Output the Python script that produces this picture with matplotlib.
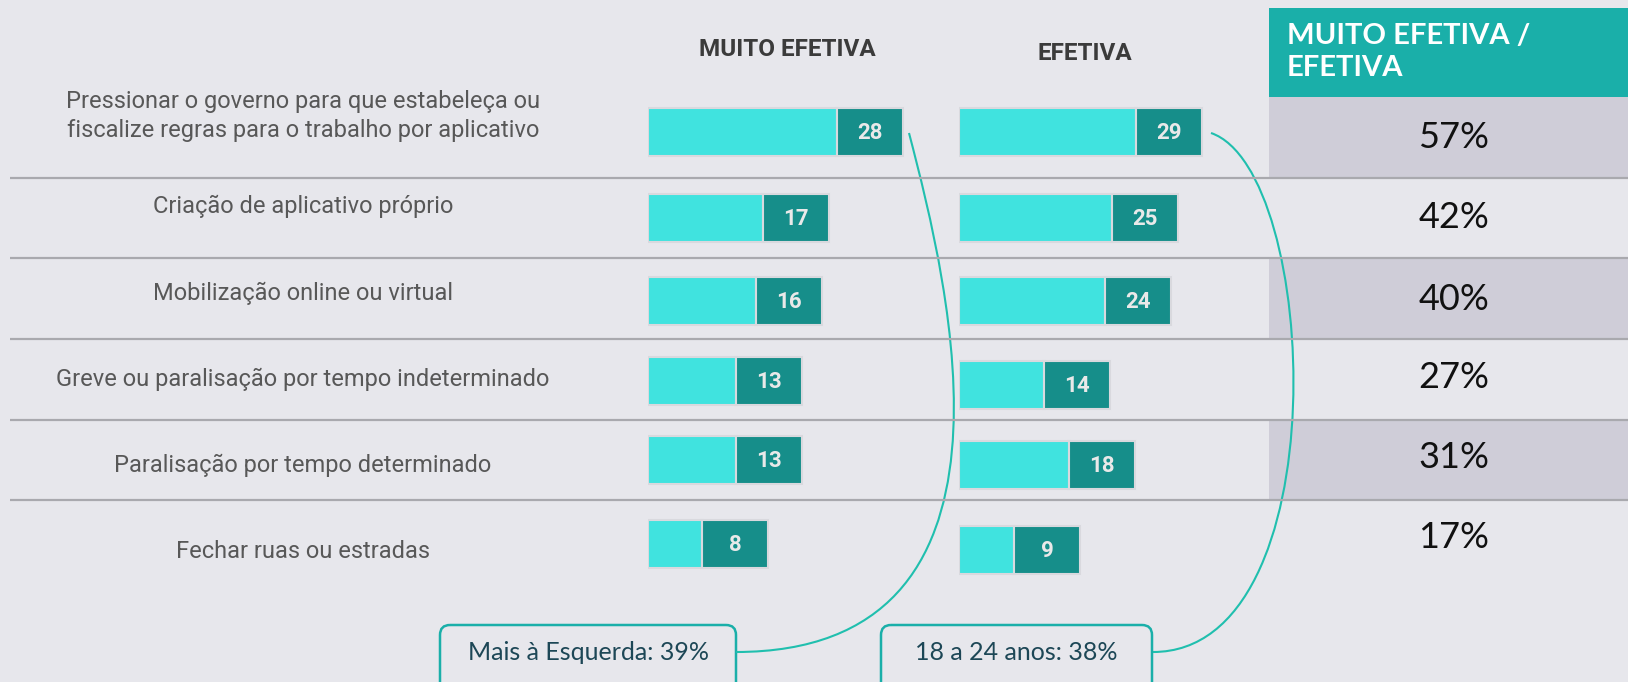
import matplotlib.pyplot as plt
from matplotlib.patches import FancyBboxPatch, PathPatch, Rectangle
from matplotlib.path import Path

# data
acoes = [
    "Pressionar o governo para que estabeleça ou\nfiscalize regras para o trabalho por aplicativo",
    "Criação de aplicativo próprio",
    "Mobilização online ou virtual",
    "Greve ou paralisação por tempo indeterminado",
    "Paralisação por tempo determinado",
    "Fechar ruas ou estradas",
]
muito_efetiva = [28, 17, 16, 13, 13, 8]
efetiva = [29, 25, 24, 14, 18, 9]
total = [57, 42, 40, 27, 31, 17]
callouts = ["Mais à Esquerda: 39%", "18 a 24 anos: 38%"]

BG = "#e7e7ec"
CYAN = "#40e3df"
TEAL = "#168e8a"
HEAD = "#1aafa9"
CELL = "#cfcdd8"
LINE = "#a9a9ae"

W, H = 1628, 682
fig = plt.figure(figsize=(W / 100, H / 100), dpi=100, facecolor=BG)
ax = fig.add_axes([0, 0, 1, 1])
ax.set_xlim(0, W)
ax.set_ylim(H, 0)
ax.axis("off")

label_y = [116, 206, 293, 379, 465, 551]
pct_y = [137, 218, 300, 378, 457, 538]
seps = [177.5, 257.5, 338.5, 419.5, 499.5]

# right column: header + alternating cells
ax.add_patch(Rectangle((1269, 8), W - 1269, 89, color=HEAD, lw=0))
ax.text(1287, 52, "MUITO EFETIVA /\nEFETIVA", color="white", fontsize=21,
        fontweight="bold", family="Lato", va="center", ha="left", linespacing=1.25)
bounds = [96.5] + seps + [580]
for i in range(len(total)):
    if i % 2 == 0 and i < 5:
        ax.add_patch(Rectangle((1269, bounds[i]), W - 1269, bounds[i + 1] - bounds[i],
                               color=CELL, lw=0))
    ax.text(1454, pct_y[i], f"{total[i]}%", fontsize=26, family="Lato",
            color="#111111", ha="center", va="center")

for y in seps:
    ax.plot([10, W], [y, y], color=LINE, lw=1.6, solid_capstyle="butt")

for y, lab in zip(label_y, acoes):
    ax.text(303, y, lab, fontsize=17, family="Roboto", color="#585858",
            ha="center", va="center", linespacing=1.35)

ax.text(787, 50, "MUITO EFETIVA", fontsize=17.5, fontweight="bold", family="Roboto",
        color="#3b3b3b", ha="center", va="center")
ax.text(1085, 54, "EFETIVA", fontsize=17.5, fontweight="bold", family="Roboto",
        color="#3b3b3b", ha="center", va="center")

# bar columns: (left px, px per point, row centres)
cols = [
    (muito_efetiva, 648, 6.75, [132, 218, 301, 381, 460, 544]),
    (efetiva, 959, 6.1, [132, 218, 301, 385, 465, 550]),
]
box_px = 66
for vals, left, scale, ys in cols:
    span = 360
    bax = fig.add_axes([left / W, 0, span / W, 1])
    bax.set_xlim(0, span / scale)
    bax.set_ylim(H, 0)
    bax.axis("off")
    bw = box_px / scale
    bax.barh(ys, vals, height=48, color=CYAN, edgecolor="#d9d9de", lw=1.5)
    bax.barh(ys, bw, left=vals, height=48, color=TEAL, edgecolor="#d9d9de", lw=1.5)
    for v, y in zip(vals, ys):
        bax.text(v + bw / 2, y + 1, str(v), color="#e9e9e9", fontsize=16,
                 fontweight="bold", family="Roboto", ha="center", va="center")

# callout boxes
boxes = [(440, 736), (881, 1152)]
for (x0, x1), txt in zip(boxes, callouts):
    ax.add_patch(FancyBboxPatch((x0, 625), x1 - x0, 80, boxstyle="round,pad=0,rounding_size=10",
                                fc="none", ec=HEAD, lw=1.8))
    ax.text((x0 + x1) / 2, 652, txt, fontsize=18, family="Lato", color="#1d4756",
            ha="center", va="center")

# connector curves
curves = [
    [(909, 133), (950, 290), (1040, 652), (736, 652)],
    [(1211, 133), (1320, 170), (1340, 652), (1153, 652)],
]
for pts in curves:
    path = Path(pts, [Path.MOVETO, Path.CURVE4, Path.CURVE4, Path.CURVE4])
    ax.add_patch(PathPatch(path, fc="none", ec="#20bfae", lw=1.5))

fig.savefig("out.png", dpi=100, facecolor=BG)
